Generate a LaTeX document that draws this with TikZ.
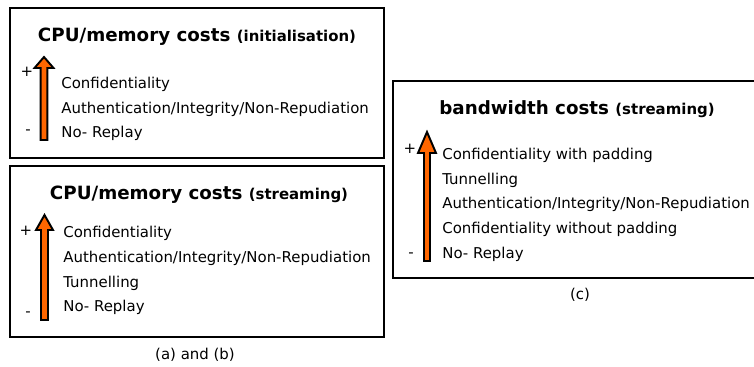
\documentclass[tikz,border=0pt]{standalone}
\usepackage{fontspec}
\setmainfont{DejaVu Sans}
\definecolor{costorange}{RGB}{255,102,0}
\begin{document}
\begin{tikzpicture}[
        x=0.02cm, y=-0.02cm,
        panel/.style={draw, line width=1.1pt},
        title/.style={anchor=base, inner sep=0pt, font=\fontsize{10.4}{12}\selectfont\bfseries},
        sub/.style={font=\fontsize{8.5}{10}\selectfont\bfseries},
        item/.style={anchor=base west, inner sep=0pt, font=\fontsize{8.5}{10}\selectfont},
        sign/.style={inner sep=0pt, font=\fontsize{8.5}{10}\selectfont},
        costarrow/.style={draw=black, fill=costorange, line width=1.1pt, line join=miter}
    ]
        \useasboundingbox (0,0) rectangle (754,367);
        \clip (0,0) rectangle (754,367);

        % (a) CPU/memory costs, initialisation
        \draw[panel] (10,8) rectangle (384,158);
        \node[title] (inittitle) at (197,42) {CPU/memory costs {\fontsize{8.5}{10}\selectfont(initialisation)}};
        \draw[costarrow] (44,57) -- (53.5,68) -- (47.3,68) -- (47.3,140) -- (40.7,140) -- (40.7,68) -- (34.5,68) -- cycle;
        \node[sign] (initplus) at (27,72) {+};
        \node[sign] (initminus) at (28,132) {-};
        \node[item] (initconf) at (61,89) {Confidentiality};
        \node[item] (initauth) at (61,114) {Authentication/Integrity/Non-Repudiation};
        \node[item] (initreplay) at (61,138) {No- Replay};

        % (b) CPU/memory costs, streaming
        \draw[panel] (10,166) rectangle (384,337);
        \node[title] (streamtitle) at (199,200) {CPU/memory costs {\fontsize{8.5}{10}\selectfont(streaming)}};
        \draw[costarrow] (44.5,215) -- (53,230) -- (48,230) -- (48,320) -- (41,320) -- (41,230) -- (36,230) -- cycle;
        \node[sign] (streamplus) at (26,231) {+};
        \node[sign] (streamminus) at (28,314) {-};
        \node[item] (streamconf) at (63,238) {Confidentiality};
        \node[item] (streamauth) at (63,263) {Authentication/Integrity/Non-Repudiation};
        \node[item] (streamtunnel) at (63,288) {Tunnelling};
        \node[item] (streamreplay) at (63,312) {No- Replay};
        \node[sign] (labelab) at (195,355) {(a) and (b)};

        % (c) bandwidth costs, streaming
        \draw[panel] (393,81) rectangle (770,278);
        \node[title] (bwtitle) at (577,115) {bandwidth costs {\fontsize{8.5}{10}\selectfont(streaming)}};
        \draw[costarrow] (427,132) -- (436,153) -- (430,153) -- (430,261) -- (424,261) -- (424,153) -- (418,153) -- cycle;
        \node[sign] (bwplus) at (410,149) {+};
        \node[sign] (bwminus) at (411,255) {-};
        \node[item] (bwpad) at (442,160) {Confidentiality with padding};
        \node[item] (bwtunnel) at (442,185) {Tunnelling};
        \node[item] (bwauth) at (442,209) {Authentication/Integrity/Non-Repudiation};
        \node[item] (bwnopad) at (442,234) {Confidentiality without padding};
        \node[item] (bwreplay) at (442,259) {No- Replay};
        \node[sign] (labelc) at (580,295) {(c)};
    \end{tikzpicture}
\end{document}
